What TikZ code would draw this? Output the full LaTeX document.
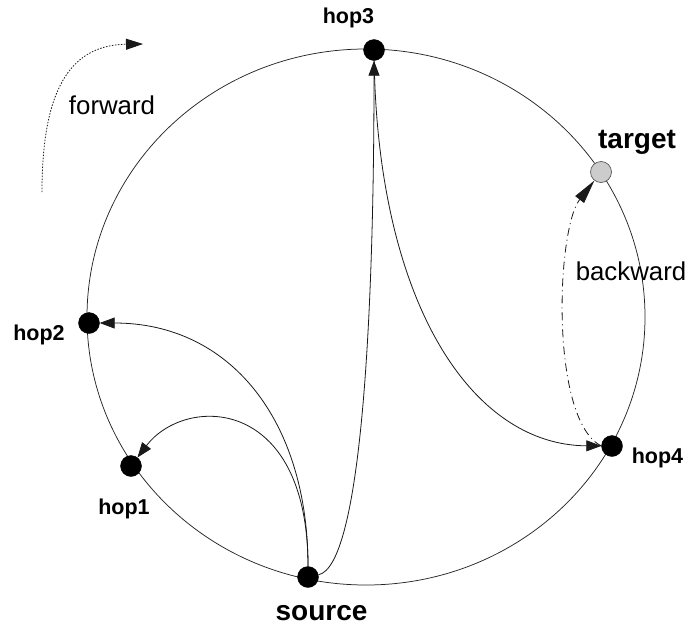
\documentclass[tikz,border=0pt]{standalone}
\usepackage{fontspec}
\setmainfont{Liberation Sans}
\usetikzlibrary{arrows.meta}
\begin{document}
\begin{tikzpicture}[x=1pt,y=-1pt,
  peer/.style={circle,fill=black,draw=black,line width=0.4pt,minimum size=21pt,inner sep=0pt},
  goal/.style={circle,fill=black!20,draw=black!65,line width=0.7pt,minimum size=21pt,inner sep=0pt},
  ring/.style={line width=0.75pt,draw=black!85},
  link/.style={line width=0.8pt,draw=black!90,-{Triangle[length=15pt,width=11pt]}},
  backlink/.style={line width=0.8pt,draw=black!90,
    dash pattern=on 8pt off 4pt on 1pt off 4pt,
    -{Triangle[length=24pt,width=11pt]}},
  fwdlink/.style={line width=0.8pt,draw=black!90,
    dash pattern=on 1.5pt off 1.5pt,
    -{Triangle[length=17pt,width=11pt]}},
  smalllabel/.style={anchor=base,inner sep=0pt,font=\fontsize{21.5}{24}\selectfont\bfseries},
  biglabel/.style={anchor=base,inner sep=0pt,font=\fontsize{28}{32}\selectfont\bfseries},
  dirlabel/.style={anchor=base,inner sep=0pt,font=\fontsize{25.8}{30}\selectfont}]

\useasboundingbox (0,0) rectangle (688,627);

% the ring
\draw[ring] (366,317) ellipse [x radius=279, y radius=268];

% peers on the ring
\node[peer] (hop3) at (374,50) {};
\node[goal] (target) at (601,172) {};
\node[peer] (hop2) at (89,323) {};
\node[peer] (hop1) at (131,466) {};
\node[peer] (source) at (308,577) {};
\node[peer] (hop4) at (612,446) {};

% labels
\node[smalllabel] (lhop3) at (348.5,23) {hop3};
\node[smalllabel] (lhop2) at (39,340.5) {hop2};
\node[smalllabel] (lhop1) at (124,514) {hop1};
\node[smalllabel] (lhop4) at (657.5,463) {hop4};
\node[biglabel] (lsource) at (321.5,620) {source};
\node[biglabel] (ltarget) at (637,148.5) {target};
\node[dirlabel] (lforward) at (112,114) {forward};
\node[dirlabel] (lbackward) at (631,280) {backward};

% lookups from the source
\draw[link] (source) .. controls (308,420) and (230,323) .. (hop2);
\draw[link] (source) .. controls (308,395) and (185,395) .. (hop1);
\draw[link] (source) .. controls (360,566) and (374,330) .. (hop3);
\draw[link] (hop3) .. controls (378,300) and (470,445) .. (hop4);

% backward step
\draw[backlink] (hop4.west) .. controls (550,420) and (556,230) .. (target);

% forward direction hint
\coordinate (fwdstart) at (42,192);
\coordinate (fwdend) at (143,44);
\draw[fwdlink] (fwdstart) .. controls (42,90) and (70,45) .. (fwdend);
\end{tikzpicture}
\end{document}
